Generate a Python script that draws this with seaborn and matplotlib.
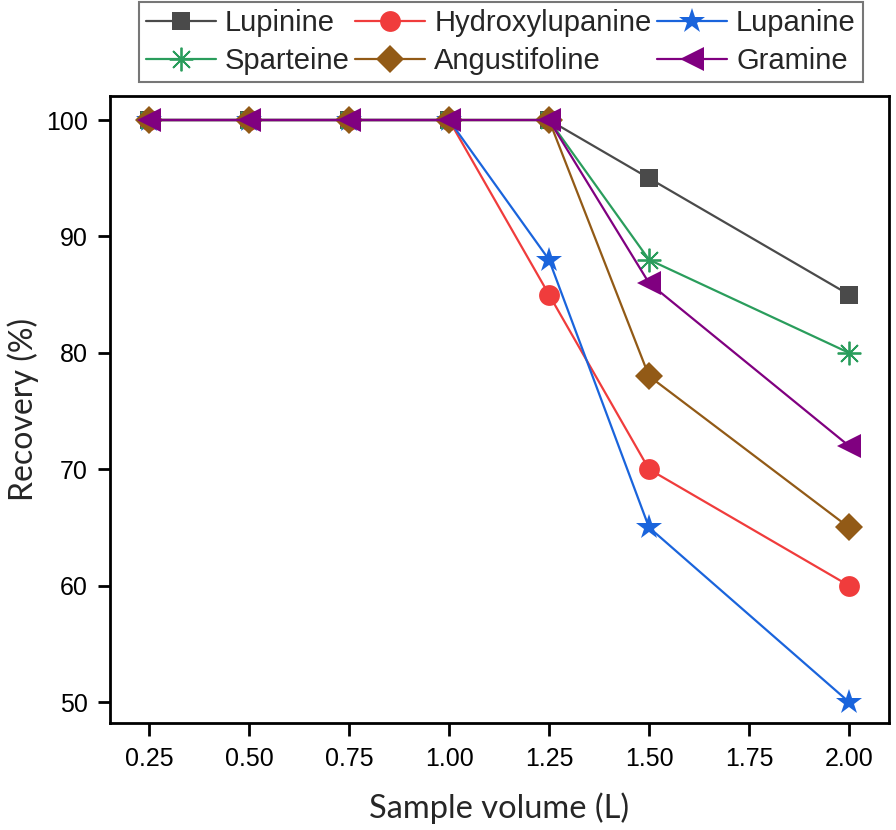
import matplotlib
matplotlib.use("Agg")
import matplotlib.pyplot as plt
import seaborn as sns
import pandas as pd
from matplotlib.lines import Line2D

volumes = [0.25, 0.50, 0.75, 1.00, 1.25, 1.50, 2.00]
lupinine = [100, 100, 100, 100, 100, 95, 85]
hydroxylupanine = [100, 100, 100, 100, 85, 70, 60]
lupanine = [100, 100, 100, 100, 88, 65, 50]
sparteine = [100, 100, 100, 100, 100, 88, 80]
angustifoline = [100, 100, 100, 100, 100, 78, 65]
gramine = [100, 100, 100, 100, 100, 86, 72]

names = ["Lupinine", "Hydroxylupanine", "Lupanine", "Sparteine", "Angustifoline", "Gramine"]
series = [lupinine, hydroxylupanine, lupanine, sparteine, angustifoline, gramine]
xticks = [0.25, 0.50, 0.75, 1.00, 1.25, 1.50, 1.75, 2.00]
yticks = [50, 60, 70, 80, 90, 100]

sns.set_style("white")
plt.rcParams["font.family"] = ["Liberation Sans", "DejaVu Sans"]

palette = {"Lupinine": "#4a4a4a", "Hydroxylupanine": "#f03c3c", "Lupanine": "#1a64dc",
           "Sparteine": "#2a9d5c", "Angustifoline": "#925a16", "Gramine": "#800080"}
markers = {"Lupinine": "s", "Hydroxylupanine": "o", "Lupanine": "*",
           "Sparteine": (8, 2, 0), "Angustifoline": "D", "Gramine": "<"}
msize = {"Lupinine": 13, "Hydroxylupanine": 15, "Lupanine": 19,
         "Sparteine": 17, "Angustifoline": 14, "Gramine": 17}

fig = plt.figure(figsize=(8.96, 8.30), dpi=100)
ax = fig.add_axes([0.1228, 0.1289, 0.8694, 0.7554])

for n, vals in zip(names, series):
    d = pd.DataFrame({"Volume": volumes, "Recovery": vals})
    is_line = n == "Sparteine"
    sns.lineplot(data=d, x="Volume", y="Recovery", color=palette[n], marker=markers[n],
                 markersize=msize[n], linewidth=1.6,
                 markeredgewidth=1.3 if is_line else 0,
                 markeredgecolor=palette[n], ax=ax, legend=False, sort=False)

ax.set_xlim(0.1525, 2.1)
ax.set_ylim(48.2, 102.06)
ax.set_xticks(xticks)
ax.set_xticklabels([f"{t:.2f}" for t in xticks])
ax.set_yticks(yticks)
ax.tick_params(axis="both", direction="out", length=9, width=2, labelsize=18,
               bottom=True, left=True, top=False, right=False, pad=7, colors="black")
ax.tick_params(axis="x", pad=8)
for s in ax.spines.values():
    s.set_linewidth(2)
    s.set_color("black")
ax.set_xlabel("Sample volume (L)", fontsize=23.5, family=["Lato", "DejaVu Sans"], labelpad=16)
ax.set_ylabel("Recovery (%)", fontsize=23, family=["Lato", "DejaVu Sans"], labelpad=5)

handles = {}
for n in names:
    handles[n] = Line2D([], [], color=palette[n], marker=markers[n], markersize=msize[n],
                        linewidth=1.6,
                        markeredgewidth=1.3 if n == "Sparteine" else 0,
                        markeredgecolor=palette[n])
order = ["Lupinine", "Sparteine", "Hydroxylupanine", "Angustifoline", "Lupanine", "Gramine"]
leg = fig.legend([handles[n] for n in order], order, ncol=3, loc="upper center",
                 bbox_to_anchor=(0.559, 0.998), fontsize=21, frameon=True, fancybox=False,
                 edgecolor="#555555", handlelength=2.4, handletextpad=0.3,
                 columnspacing=0.2, labelspacing=0.35, borderpad=0.25, borderaxespad=0)
leg.get_frame().set_linewidth(1.5)

fig.savefig("out.png", dpi=100, facecolor="white")
